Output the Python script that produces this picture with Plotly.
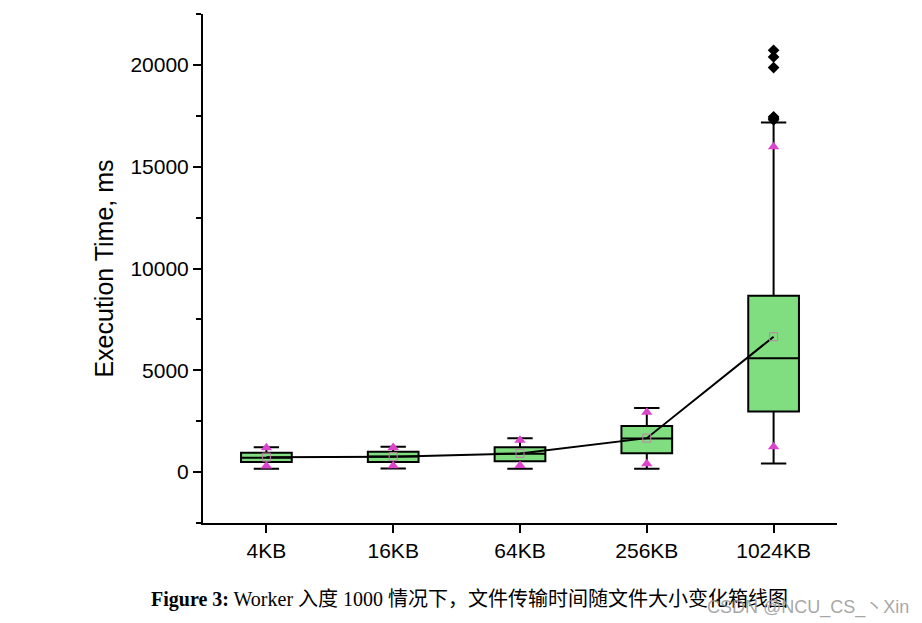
import plotly.graph_objects as go

# values (ms)
sizes = ['4KB', '16KB', '64KB', '256KB', '1024KB']
lower_whisker = [162, 181, 162, 162, 425]
q1 = [490, 490, 539, 931, 2975]
median = [701, 770, 897, 1650, 5588]
q3 = [946, 995, 1225, 2270, 8660]
upper_whisker = [1225, 1240, 1667, 3152, 17170]
means = [735, 760, 917, 1667, 6650]
p1 = [294, 310, 327, 408, 1240]
p99 = [1190, 1210, 1570, 2941, 15980]

outlier_vals = [20720, 20390, 19870, 17450, 17380, 17300]

y_ticks = [0, 5000, 10000, 15000, 20000]

fig = go.Figure()

fig.add_trace(go.Box(
    x=sizes, q1=q1, median=median, q3=q3,
    lowerfence=lower_whisker, upperfence=upper_whisker,
    width=0.4, whiskerwidth=0.5,
    fillcolor='#80dd80', line=dict(color='black', width=2),
    boxpoints=False, hoverinfo='skip', showlegend=False
))

# 1% / 99% markers
fig.add_trace(go.Scatter(
    x=sizes + sizes, y=p1 + p99, mode='markers',
    marker=dict(symbol='triangle-up', size=10, color='#dd44cc'),
    showlegend=False
))

# mean line
fig.add_trace(go.Scatter(
    x=sizes, y=means, mode='lines+markers',
    line=dict(color='black', width=2),
    marker=dict(symbol='square-open', size=8, color='#c080a8', line=dict(width=1)),
    showlegend=False
))

# outliers
fig.add_trace(go.Scatter(
    x=['1024KB'] * len(outlier_vals), y=outlier_vals, mode='markers',
    marker=dict(symbol='diamond', size=9, color='black'),
    showlegend=False
))

# page renders with a small offset, so margins are nudged to land the axes where the reference has them
L, R, T, B = 195, 93, 6, 108
W, H = 922, 623

fig.update_layout(
    width=W, height=H,
    paper_bgcolor='white', plot_bgcolor='white',
    margin=dict(l=L, r=R, t=T, b=B, autoexpand=False),
    font=dict(family='Liberation Sans, Arial', color='black'),
    xaxis=dict(
        type='category', range=[-0.5, 4.5], automargin=False,
        showline=True, linecolor='black', linewidth=2,
        ticks='outside', ticklen=8, tickwidth=2, tickcolor='black',
        tickfont=dict(size=21), showgrid=False, zeroline=False
    ),
    yaxis=dict(
        range=[-2500, 22500], tickvals=y_ticks, ticktext=[str(v) for v in y_ticks],
        automargin=False,
        showline=True, linecolor='black', linewidth=2,
        ticks='outside', ticklen=8, tickwidth=2, tickcolor='black',
        minor=dict(dtick=2500, tick0=-2500, ticks='outside', ticklen=5, tickwidth=2, tickcolor='black'),
        tickfont=dict(size=21), showgrid=False, zeroline=False,
        title=dict(text='Execution Time, ms', font=dict(size=25), standoff=10)
    ),
)

plot_w = W - L - R
plot_h = H - T - B


def px_to_paper(px, py):
    return (px - L) / plot_w, (H - B - py) / plot_h


cx, cy = px_to_paper(141, 591)
wx, wy = px_to_paper(903, 599)
fig.add_annotation(
    text='<b>Figure 3:</b> Worker 入度 1000 情况下，文件传输时间随文件大小变化箱线图',
    x=cx, y=cy, xref='paper', yref='paper', showarrow=False,
    font=dict(family='Liberation Serif, Noto Sans CJK SC', size=20, color='black'),
    xanchor='left', yanchor='middle'
)
fig.add_annotation(
    text='CSDN @NCU_CS_丶Xin',
    x=wx, y=wy, xref='paper', yref='paper', showarrow=False,
    font=dict(family='Liberation Sans, Noto Sans CJK SC', size=18, color='rgba(150,150,150,0.85)'),
    xanchor='right', yanchor='middle'
)

fig.write_html("out.html")
